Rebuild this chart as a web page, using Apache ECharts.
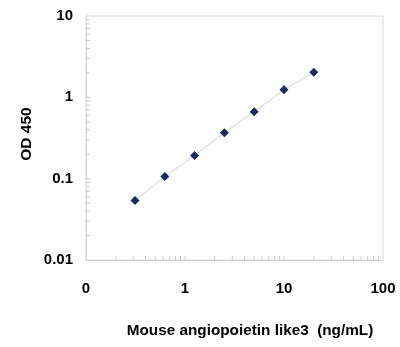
<!DOCTYPE html>
<html>
<head>
<meta charset="utf-8">
<script src="https://cdn.jsdelivr.net/npm/echarts@6/dist/echarts.min.js"></script>
<style>html,body{margin:0;padding:0;background:#fff}#c{width:400px;height:347px}</style>
</head>
<body>
<div id="c"></div>
<script>
var concentrations = [0.3125, 0.625, 1.25, 2.5, 5, 10, 20];
var odValues = [0.054, 0.106, 0.193, 0.367, 0.667, 1.24, 2.03];
var xTickLabels = {0.1: '0', 1: '1', 10: '10', 100: '100'};
var yTickLabels = {0.01: '0.01', 0.1: '0.1', 1: '1', 10: '10'};
var xTitle = 'Mouse angiopoietin like3  (ng/mL)';
var yTitle = 'OD 450';

var FONT = 'Liberation Sans, Arial, sans-serif';
var chart = echarts.init(document.getElementById('c'));
var option = {
  backgroundColor: '#fff',
  animation: false,
  grid: {left: 86, right: 17, top: 16, bottom: 87, show: true, borderColor: '#d9d9d9', borderWidth: 1},
  xAxis: {
    type: 'log', logBase: 10, min: 0.1, max: 100,
    axisLine: {lineStyle: {color: '#d4d4d4', width: 1}},
    axisTick: {show: false},
    splitLine: {show: false},
    axisLabel: {margin: 21, color: '#000', fontFamily: FONT, fontWeight: 'bold', fontSize: 15,
      formatter: function (v) { var k = Object.keys(xTickLabels).find(function (t) { return Math.abs(+t - v) / v < 1e-6; }); return k !== undefined ? xTickLabels[k] : ''; }}
  },
  yAxis: {
    type: 'log', logBase: 10, min: 0.01, max: 10,
    axisLine: {lineStyle: {color: '#d4d4d4', width: 1}},
    axisTick: {show: false},
    splitLine: {show: false},
    axisLabel: {margin: 13, color: '#000', fontFamily: FONT, fontWeight: 'bold', fontSize: 15,
      formatter: function (v) { var k = Object.keys(yTickLabels).find(function (t) { return Math.abs(+t - v) / v < 1e-6; }); return k !== undefined ? yTickLabels[k] : ''; }}
  },
  series: [{
    type: 'line',
    data: concentrations.map(function (c, i) { return [c, odValues[i]]; }),
    symbol: 'diamond', symbolSize: 9,
    itemStyle: {color: '#1b2a5e'},
    lineStyle: {color: '#cfcfcf', width: 1}
  }],
  graphic: []
};
chart.setOption(option);

// inward ticks on the log axes, positioned through the library's scales
var g = [];
var tickColor = '#cccccc';
[0.1, 1, 10].forEach(function (d) {
  for (var m = 1; m <= 9; m++) {
    var v = d * m;
    if (v <= 0.1 || v >= 100) continue;
    var p = chart.convertToPixel({gridIndex: 0}, [v, 0.01]);
    g.push({type: 'line', shape: {x1: p[0], y1: p[1], x2: p[0], y2: p[1] - 4}, style: {stroke: tickColor, lineWidth: 1}, silent: true});
  }
});
[0.01, 0.1, 1].forEach(function (d) {
  for (var m = 1; m <= 9; m++) {
    var v = d * m;
    if (v <= 0.01 || v >= 10) continue;
    var p = chart.convertToPixel({gridIndex: 0}, [0.1, v]);
    g.push({type: 'line', shape: {x1: p[0], y1: p[1], x2: p[0] + 4, y2: p[1]}, style: {stroke: tickColor, lineWidth: 1}, silent: true});
  }
});
g.push({type: 'text', x: 250, y: 331, style: {text: xTitle, fill: '#000', font: 'bold 15.3px ' + FONT, align: 'center', verticalAlign: 'middle'}});
g.push({type: 'text', x: 27, y: 134, rotation: Math.PI / 2, style: {text: yTitle, fill: '#000', font: 'bold 15.5px ' + FONT, align: 'center', verticalAlign: 'middle'}});
chart.setOption({graphic: g});
</script>
</body>
</html>
